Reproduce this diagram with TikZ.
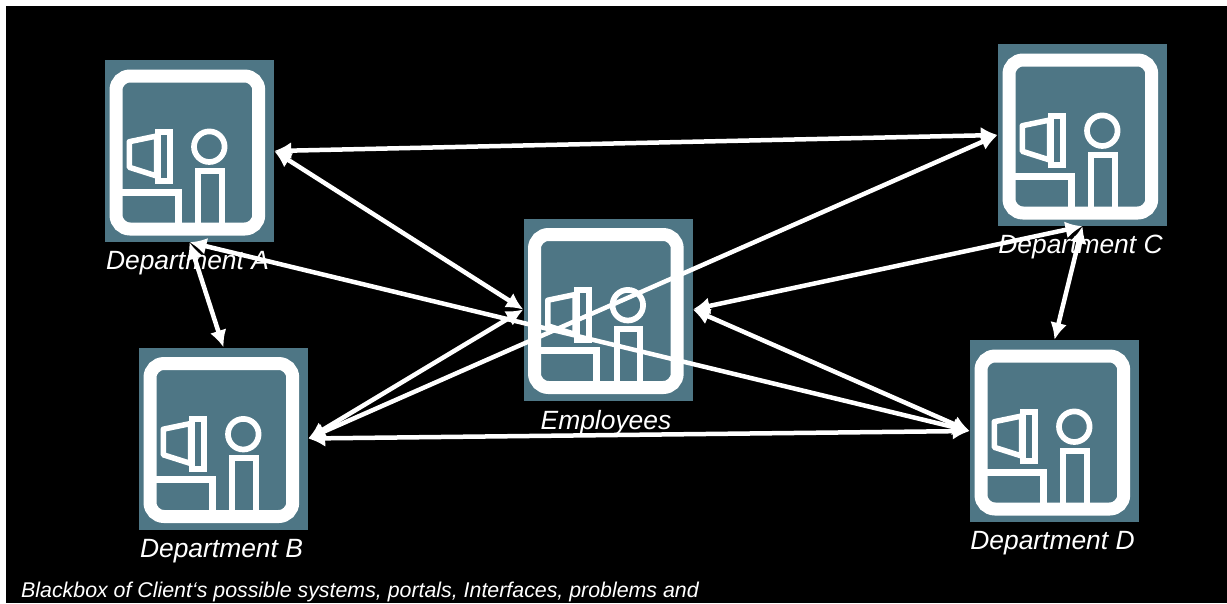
\documentclass[tikz,border=0pt]{standalone}
\usepackage{fontspec}
\setmainfont{Liberation Sans}
\usetikzlibrary{arrows.meta}
\usetikzlibrary{positioning}
\definecolor{tileColor}{RGB}{78,118,133}
\tikzset{
    deptTile/.style={
        ,   rectangle
        ,   fill=tileColor
        ,   minimum width=169pt
        ,   minimum height=182pt
        ,   inner sep=0pt
    },
    deptLabel/.style={
        ,   text=white
        ,   inner sep=0pt
        ,   font={\fontsize{26.4pt}{30pt}\itshape}
    },
    footLabel/.style={
        ,   text=white
        ,   inner sep=0pt
        ,   anchor=base west
        ,   font={\fontsize{21.35pt}{26pt}\itshape}
    },
    deptIcon/.pic={
        \draw[white,line width=13pt,rounded corners=14pt] (-73.5,-75) rectangle (69.2,78);
        \draw[white,line width=5.5pt,line join=round] (-60.2,-9.3) -- (-32.8,-15) -- (-32.8,25) -- (-60.2,16.3) -- cycle;
        \draw[white,line width=6pt] (-31.2,-19.3) rectangle (-19.5,30);
        \draw[white,line width=7pt] (-70,41) -- (-11.2,41) -- (-11.2,78);
        \draw[white,line width=5.7pt] (19.8,-4.3) circle (15.3);
        \draw[white,line width=6pt] (8.8,78) -- (8.8,19.7) -- (32.2,19.7) -- (32.2,78);
    }
}
\begin{document}
\begin{tikzpicture}[x=1pt,y=-1pt
				,<->,>={Latex[length=17pt, width=17pt]}]
		\useasboundingbox (0,0) rectangle (1227,603);
		\fill[black] (6,6) rectangle (1227,603);

		\foreach \name/\x/\y/\txt in {deptA/189.5/151/Department A,deptB/223.5/438.5/Department B,
				deptC/1082.5/135/Department C,deptD/1054.5/431/Department D,staff/608/309.5/Employees}{
			\node[deptTile] (\name) at (\x,\y) {};
			\pic[-] at (\name.center) {deptIcon};
			\node[deptLabel, below=9pt of \name.south, xshift=-2pt] (\name label) {\txt};
		}
		\node[footLabel] (foot) at (21,597) {Blackbox of Client‘s possible systems, portals, Interfaces, problems and};

		\path[white,line width=4.5pt](deptA.east) edge (deptC.west)
				(deptA.east) edge (staff.west)
				(deptA.south) edge (deptD.west)
				(deptA.south) edge (deptB.north)
				(deptB.east) edge (staff.west)
				(deptB.east) edge (deptC.west)
				(deptB.east) edge (deptD.west)
				(staff.east) edge (deptC.south)
				(staff.east) edge (deptD.west)
				(deptC.south) edge (deptD.north);
		\end{tikzpicture}
\end{document}
